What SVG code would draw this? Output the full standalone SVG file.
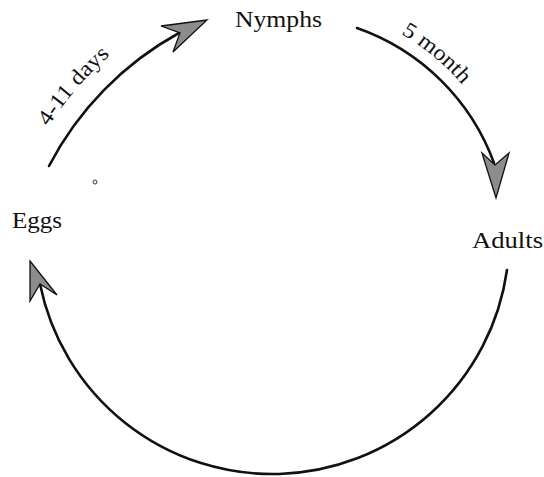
<svg xmlns="http://www.w3.org/2000/svg" width="544" height="477" viewBox="0 0 544 477">
<style>
.lbl{font-family:"Liberation Serif","Times New Roman",serif;font-size:24px;fill:#111}
.edge{font-family:"Liberation Serif","Times New Roman",serif;font-size:22px;fill:#111}
.arc{fill:none;stroke:#111;stroke-width:2.6;stroke-linecap:round}
.head{fill:#8c8c8c;stroke:#111;stroke-width:1.3;stroke-linejoin:miter}
</style>
<defs>
<path id="tp1" d="M48.2,126.8 A340,340 0 0 1 111.6,53.8"/>
<path id="tp2" d="M401,33.9 A238,238 0 0 1 463,85.4"/>
</defs>
<rect width="544" height="477" fill="#fff"/>
<g id="connectors">
<g id="e1">
<path class="arc" d="M49,166 A320,320 0 0 1 179,33"/>
<polygon class="head" points="207,20 161,26 180,33 173,52"/>
<text class="edge"><textPath href="#tp1" textLength="95" lengthAdjust="spacingAndGlyphs">4-11 days</textPath></text>
</g>
<g id="e2">
<path class="arc" d="M357,28 A225,225 0 0 1 494,163"/>
<polygon class="head" points="482,153 495,165 509,153 496,198"/>
<text class="edge"><textPath href="#tp2" textLength="80" lengthAdjust="spacingAndGlyphs">5 month</textPath></text>
</g>
<g id="e3">
<path class="arc" d="M507,270 A237,237 0 0 1 40,284"/>
<polygon class="head" points="30,261 57,295 40,284 30,301"/>
</g>
</g>
<g id="nymphs"><text class="lbl" x="235" y="27" textLength="87" lengthAdjust="spacingAndGlyphs">Nymphs</text></g>
<g id="eggs"><text class="lbl" x="12" y="228" textLength="50" lengthAdjust="spacingAndGlyphs">Eggs</text></g>
<g id="adults"><text class="lbl" x="472" y="248" textLength="71" lengthAdjust="spacingAndGlyphs">Adults</text></g>
<circle cx="95" cy="182" r="2" fill="none" stroke="#333" stroke-width="1"/>
</svg>
